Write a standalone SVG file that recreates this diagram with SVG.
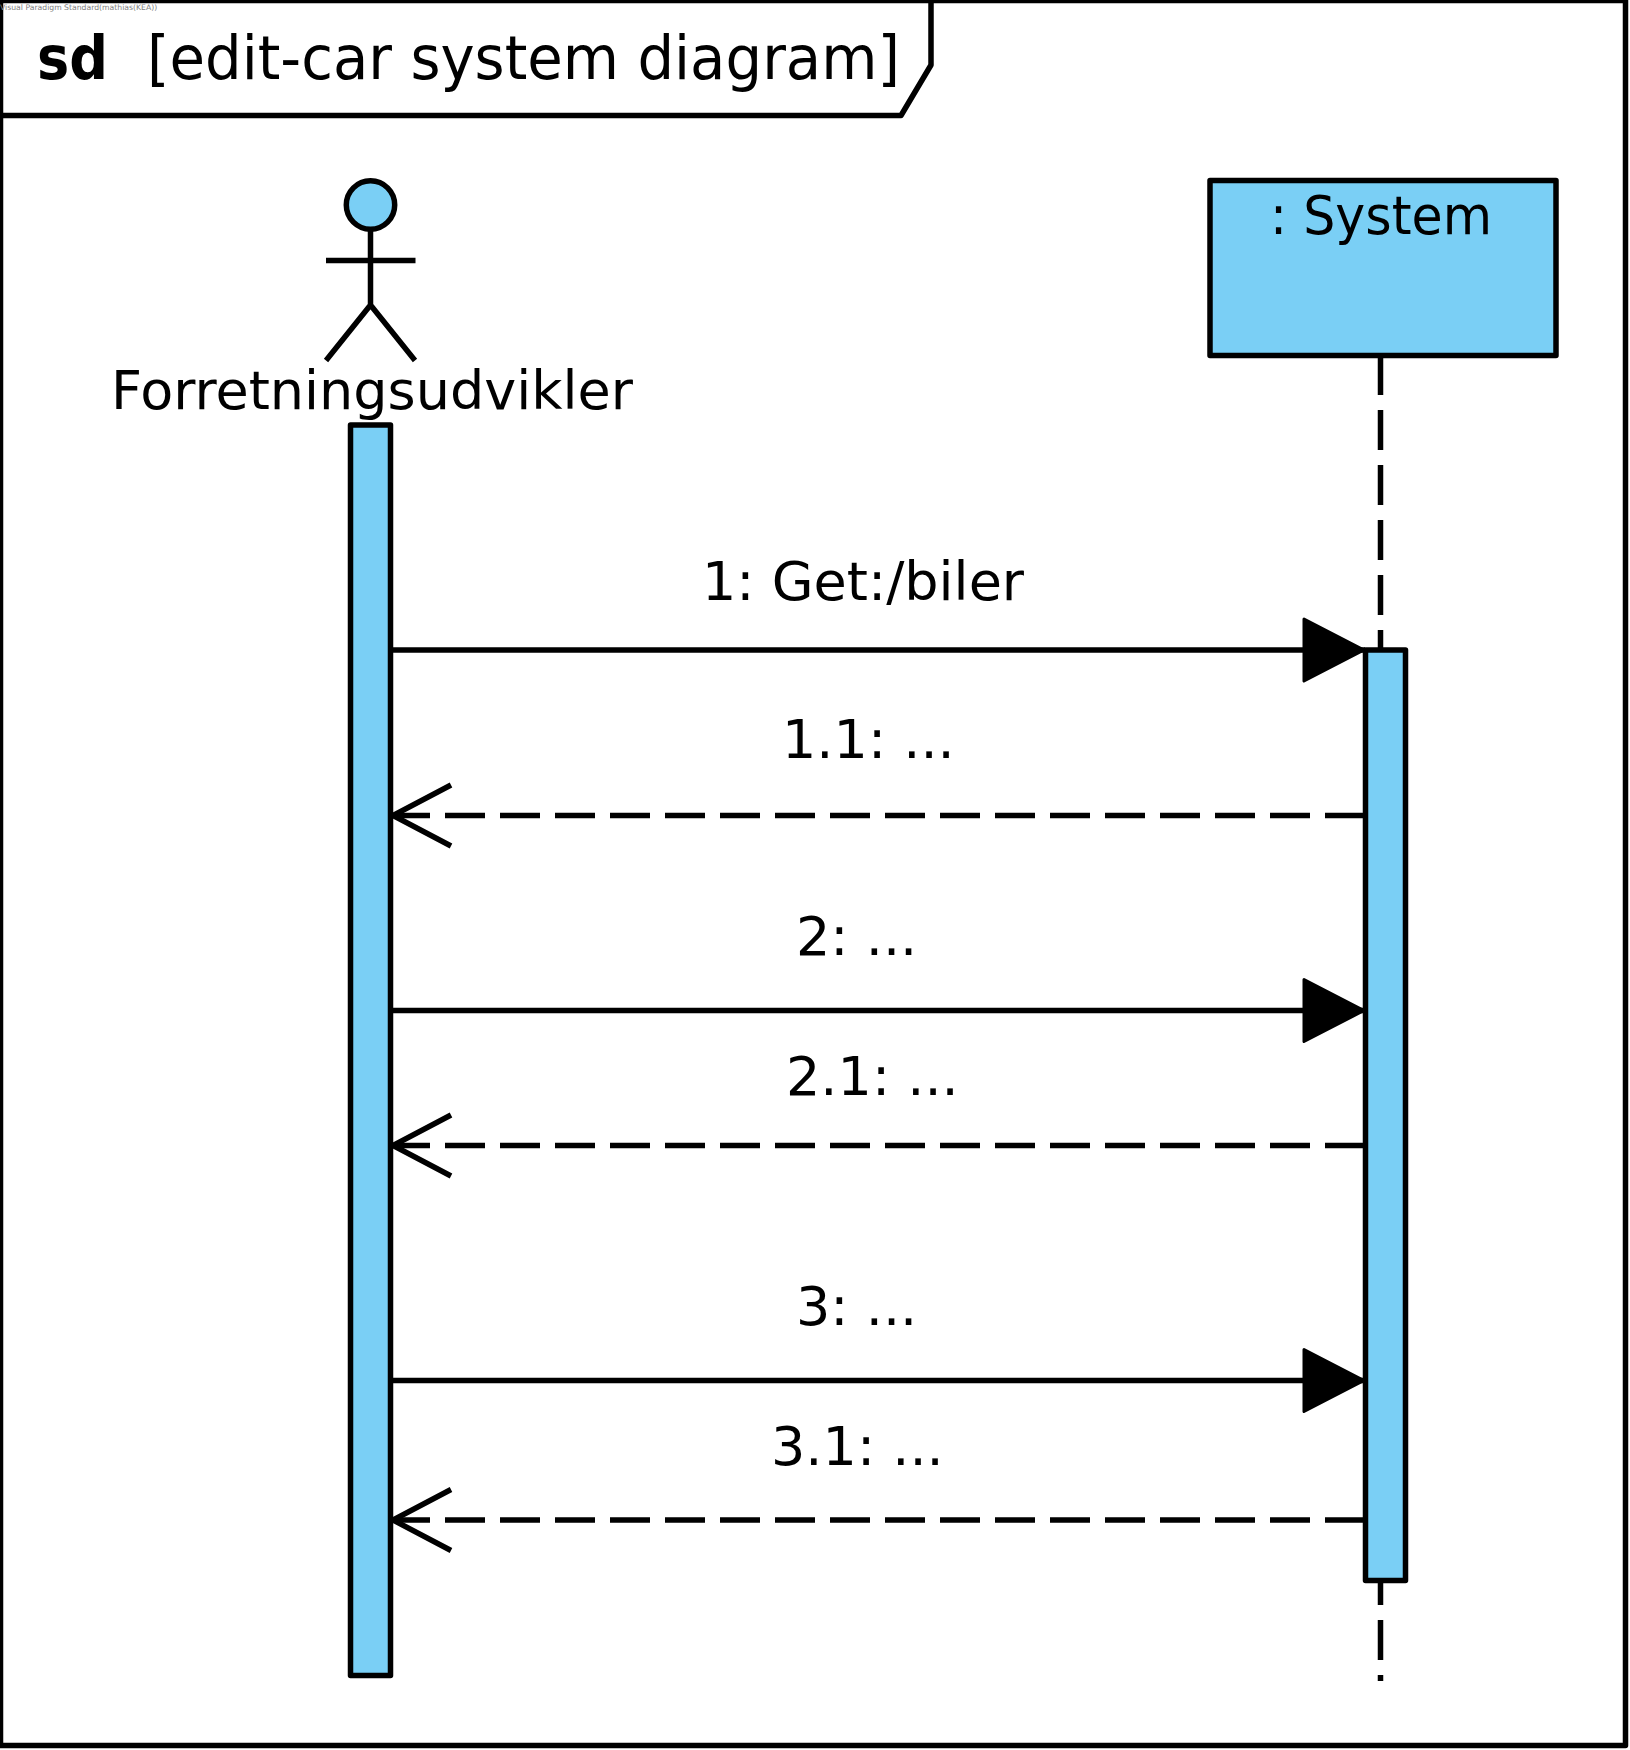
<svg xmlns="http://www.w3.org/2000/svg" width="1630" height="1750" viewBox="0 0 1630 1750">
<style>
.s{fill:none;stroke:#000;stroke-width:5.5;stroke-linejoin:round}
.b{fill:#7ACFF5;stroke:#000;stroke-width:5.5;stroke-linejoin:round}
.d{stroke-dasharray:40 15}
text{font-family:"DejaVu Sans","Liberation Sans",sans-serif;font-size:54px;fill:#000}
.t{font-size:60px}
.w{font-size:7.7px;fill:#808080}
</style>
<defs>
<marker id="solid" markerUnits="userSpaceOnUse" markerWidth="66" markerHeight="70" refX="64" refY="35" orient="auto"><path d="M3 4L63 35L3 66Z" fill="#000" stroke="#000" stroke-width="3" stroke-linejoin="round"/></marker>
<marker id="open" markerUnits="userSpaceOnUse" markerWidth="66" markerHeight="74" refX="64" refY="37" orient="auto"><path d="M4 6.5L62 37L4 67.5" fill="none" stroke="#000" stroke-width="5.5"/></marker>
</defs>
<rect width="1630" height="1750" fill="#fff"/>
<g id="frame">
<rect class="s" x="0.5" y="0.5" width="1625" height="1745"/>
<path class="s" d="M931 0.5V65L901 115.5H0.5"/>
<text class="t" x="37" y="79" font-weight="700" textLength="71" lengthAdjust="spacingAndGlyphs">sd</text>
<text class="t" x="147" y="79" textLength="753" lengthAdjust="spacingAndGlyphs">[edit-car system diagram]</text>
<text class="w" x="0" y="10">Visual Paradigm Standard(mathias(KEA))</text>
</g>
<g id="actor">
<circle class="b" cx="370.5" cy="205" r="24.2"/>
<path class="s" d="M370.5 229V305M326 260.5H415.5M326 360.5L370.5 305L415 360.5"/>
<text x="111" y="409">Forretningsudvikler</text>
</g>
<g id="actor-activation"><rect class="b" x="350.5" y="425" width="40" height="1250.5"/></g>
<g id="system">
<path class="s d" d="M1380.5 355V1681"/>
<rect class="b" x="1210" y="180.5" width="346" height="175"/>
<text x="1270" y="234" textLength="222" lengthAdjust="spacingAndGlyphs">: System</text>
<rect class="b" x="1365.5" y="650" width="40" height="930.5"/>
</g>
<g id="connectors">
<line class="s" x1="391" y1="650" x2="1365" y2="650" marker-end="url(#solid)"/>
<line class="s d" x1="1365" y1="815.5" x2="391" y2="815.5" marker-end="url(#open)"/>
<line class="s" x1="391" y1="1010.5" x2="1365" y2="1010.5" marker-end="url(#solid)"/>
<line class="s d" x1="1365" y1="1145.5" x2="391" y2="1145.5" marker-end="url(#open)"/>
<line class="s" x1="391" y1="1380.5" x2="1365" y2="1380.5" marker-end="url(#solid)"/>
<line class="s d" x1="1365" y1="1520" x2="391" y2="1520" marker-end="url(#open)"/>
</g>
<g id="labels">
<text x="702" y="600">1: Get:/biler</text>
<text x="782" y="758">1.1: ...</text>
<text x="796" y="955">2: ...</text>
<text x="786" y="1095">2.1: ...</text>
<text x="796" y="1325">3: ...</text>
<text x="771" y="1465">3.1: ...</text>
</g>
</svg>
